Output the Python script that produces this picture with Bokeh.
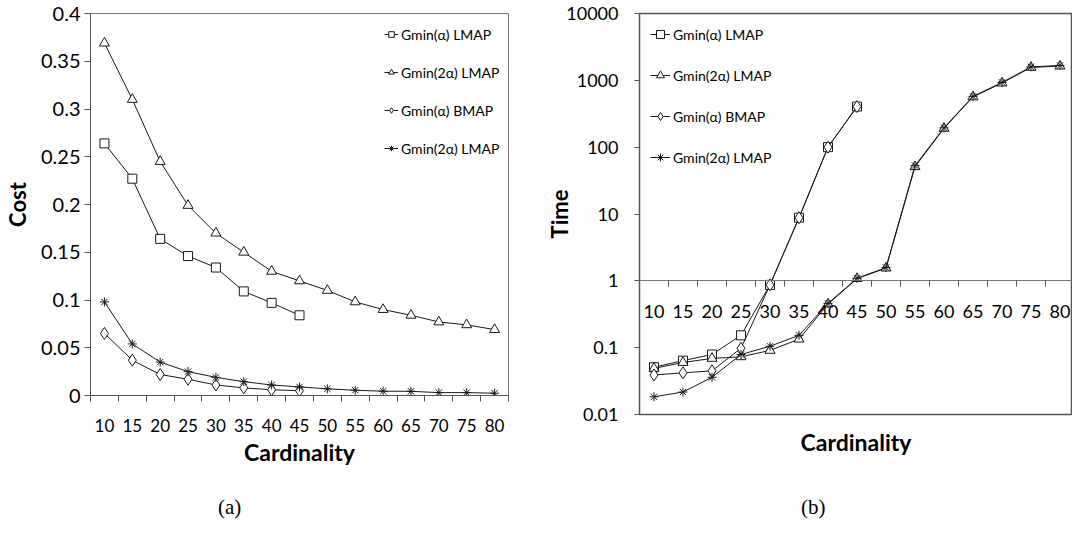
from bokeh.plotting import figure
from bokeh.models import (FixedTicker, CustomJSTickFormatter, Legend, LegendItem,
                          Title, Div, Range1d)
from bokeh.layouts import row, column
from bokeh.embed import file_html
from bokeh.resources import INLINE

# ---------------- data ----------------
cardinality = [10, 15, 20, 25, 30, 35, 40, 45, 50, 55, 60, 65, 70, 75, 80]
card_short = [10, 15, 20, 25, 30, 35, 40, 45]

series_labels = ["Gmin(α) LMAP", "Gmin(2α) LMAP", "Gmin(α) BMAP", "Gmin(2α) LMAP"]

# (a) Cost
cost_a_lmap = [0.264, 0.227, 0.164, 0.146, 0.134, 0.109, 0.097, 0.084]
cost_2a_lmap = [0.369, 0.310, 0.245, 0.199, 0.170, 0.150, 0.130, 0.120,
                0.110, 0.098, 0.090, 0.084, 0.077, 0.074, 0.069]
cost_a_bmap = [0.065, 0.037, 0.022, 0.017, 0.011, 0.008, 0.006, 0.005]
cost_2a_lmap_star = [0.098, 0.054, 0.035, 0.025, 0.019, 0.0145, 0.011, 0.009,
                     0.007, 0.0055, 0.0045, 0.0044, 0.003, 0.003, 0.0024]

# (b) Time
time_a_lmap = [0.051, 0.064, 0.079, 0.153, 0.87, 8.8, 100, 405]
time_2a_lmap = [0.049, 0.060, 0.069, 0.073, 0.091, 0.134, 0.45, 1.08,
                1.55, 51, 191, 565, 910, 1560, 1630]
time_a_bmap = [0.039, 0.042, 0.045, 0.098, 0.87, 8.8, 100, 405]
time_2a_lmap_star = [0.0184, 0.0217, 0.036, 0.079, 0.105, 0.153, 0.46, 1.09,
                     1.58, 53, 195, 575, 930, 1590, 1670]

cost_ticks = [0, 0.05, 0.1, 0.15, 0.2, 0.25, 0.3, 0.35, 0.4]
time_ticks = [0.01, 0.1, 1, 10, 100, 1000, 10000]
captions = ["(a)", "(b)"]

# ---------------- style ----------------
FONT = "Lato"
INK = "#1a1a1a"
markers = ["square", "triangle", "diamond", "asterisk"]
msizes = [9, 10, 12, 9]

boundaries = [c - 2.5 for c in cardinality] + [cardinality[-1] + 2.5]


def add_series(p, xs_list, ys_list):
    items = []
    for xs, ys, lab, mk, ms in zip(xs_list, ys_list, series_labels, markers, msizes):
        ln = p.line(xs, ys, line_color=INK, line_width=1)
        sc = p.scatter(xs, ys, marker=mk, size=ms, fill_color="white",
                       line_color=INK, line_width=1)
        items.append(LegendItem(label=lab, renderers=[ln, sc]))
    return items


def style_common(p):
    p.grid.visible = False
    p.background_fill_color = "white"
    p.border_fill_color = "white"
    for ax in p.axis:
        ax.major_label_text_font = FONT
        ax.major_label_text_color = "black"
        ax.axis_label_text_font = FONT
        ax.axis_label_text_font_style = "bold"
        ax.axis_label_text_color = "black"
        ax.axis_line_color = "#555555"
        ax.major_tick_line_color = "#555555"
        ax.minor_tick_line_color = "#555555"


def caption_div(text, width, left):
    html = ('<div style="font-family:\'Liberation Serif\',serif;font-size:21px;'
            'line-height:54px;white-space:nowrap;color:black;padding-left:%dpx">%s</div>'
            % (left, text))
    return Div(text=html, width=width, height=54, margin=0)


# ---------------- (a) ----------------
p1 = figure(width=522, height=480, output_backend="svg", toolbar_location=None,
            x_range=Range1d(boundaries[0], boundaries[-1]),
            y_range=Range1d(cost_ticks[0], cost_ticks[-1]),
            min_border_left=84, min_border_right=14, min_border_top=13,
            min_border_bottom=85)
items1 = add_series(p1, [card_short, cardinality, card_short, cardinality],
                    [cost_a_lmap, cost_2a_lmap, cost_a_bmap, cost_2a_lmap_star])
style_common(p1)
p1.outline_line_color = "#777777"
p1.outline_line_width = 1

xa = p1.xaxis[0]
xa.ticker = FixedTicker(ticks=cardinality, minor_ticks=boundaries)
xa.major_tick_in = 0
xa.major_tick_out = 0
xa.minor_tick_in = 0
xa.minor_tick_out = 6
xa.major_label_text_font_size = "17px"
xa.major_label_standoff = 17
xa.axis_label = "Cardinality"
xa.axis_label_text_font_size = "23px"
xa.axis_label_standoff = 3

ya = p1.yaxis[0]
ya.ticker = FixedTicker(ticks=cost_ticks)
ya.formatter = CustomJSTickFormatter(code="return String(Math.round(tick*1000)/1000)")
ya.major_tick_in = 0
ya.major_tick_out = 6
ya.minor_tick_line_color = None
ya.major_label_text_font_size = "20px"
ya.major_label_standoff = 4
ya.axis_label = "Cost"
ya.axis_label_text_font_size = "22px"
ya.axis_label_standoff = 7

leg1 = Legend(items=items1, location=(294, 237), orientation="vertical",
              glyph_width=14, glyph_height=20, label_height=20, spacing=18,
              label_standoff=3, padding=0, margin=0,
              label_text_font=FONT, label_text_font_size="14px",
              label_text_color="black", border_line_color=None,
              background_fill_alpha=0)
p1.add_layout(leg1)

# ---------------- (b) ----------------
frame_w2 = 1080 - 647
cat_px = 29.0
x_end2 = boundaries[0] + frame_w2 / cat_px * 5
p2 = figure(width=550, height=480, output_backend="svg", toolbar_location=None,
            y_axis_type="log",
            x_range=Range1d(boundaries[0], x_end2),
            y_range=Range1d(time_ticks[0], time_ticks[-1]),
            min_border_left=117, min_border_right=0, min_border_top=13,
            min_border_bottom=66)
items2 = add_series(p2, [card_short, cardinality, card_short, cardinality],
                    [time_a_lmap, time_2a_lmap, time_a_bmap, time_2a_lmap_star])
style_common(p2)
p2.outline_line_color = "#555555"
p2.outline_line_width = 1.5

xb = p2.xaxis[0]
xb.ticker = FixedTicker(ticks=cardinality, minor_ticks=boundaries)
xb.fixed_location = 1
xb.major_tick_in = 0
xb.major_tick_out = 0
xb.minor_tick_in = 0
xb.minor_tick_out = 6
xb.major_label_text_font_size = "18px"
xb.major_label_standoff = 18
xb.axis_line_color = "#777777"

yb = p2.yaxis[0]
yb.ticker = FixedTicker(ticks=time_ticks)
yb.formatter = CustomJSTickFormatter(code="return String(tick)")
yb.major_tick_in = 0
yb.major_tick_out = 5
yb.minor_tick_line_color = None
yb.major_label_text_font_size = "18px"
yb.major_label_standoff = 16
yb.axis_label = "Time"
yb.axis_label_text_font_size = "22px"
yb.axis_label_standoff = -10

p2.add_layout(Title(text="Cardinality", align="center", offset=12, standoff=22,
                    text_font=FONT, text_font_size="23px", text_font_style="bold",
                    text_color="black"), "below")

leg2 = Legend(items=items2, location=(11, 247), orientation="vertical",
              glyph_width=20, glyph_height=20, label_height=20, spacing=21,
              label_standoff=3, padding=0, margin=0,
              label_text_font=FONT, label_text_font_size="14px",
              label_text_color="black", border_line_color=None,
              background_fill_alpha=0)
p2.add_layout(leg2)

# ---------------- captions ----------------
cap_a = caption_div(captions[0], 522, 218)
cap_b = caption_div(captions[1], 550, 279)

layout = row(column(p1, cap_a), column(p2, cap_b))

open("out.html", "w").write(file_html(layout, INLINE))
